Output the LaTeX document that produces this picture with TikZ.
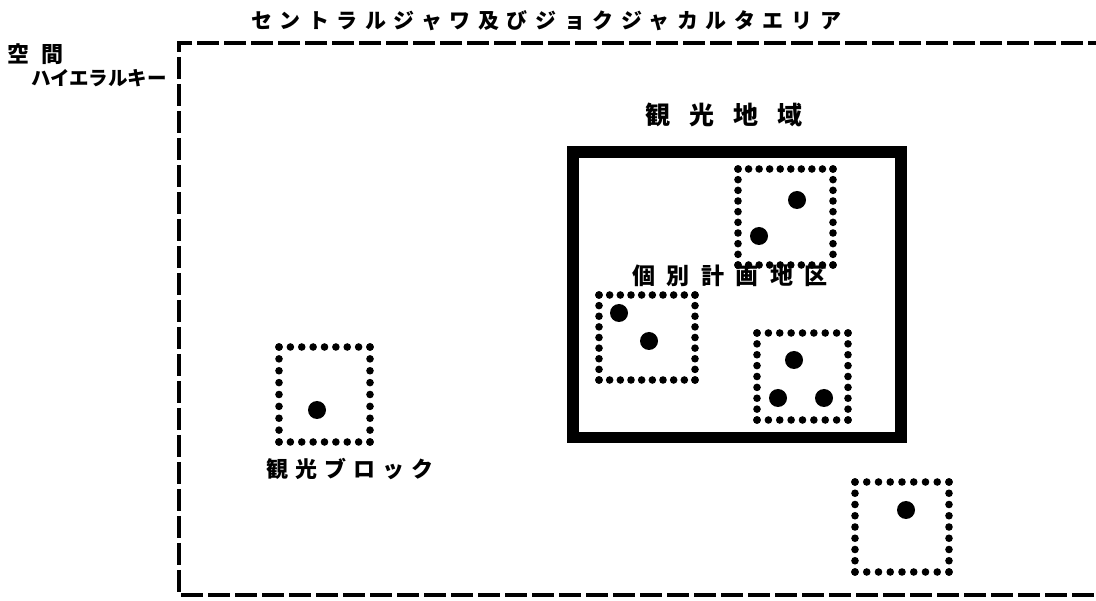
\documentclass[tikz,border=0pt]{standalone}
\usepackage{fontspec}
\setmainfont{Noto Sans CJK JP}
\newfontfamily\jptitle[LetterSpace=36]{Noto Sans CJK JP}
\newfontfamily\jpa{Noto Sans CJK JP}
\newfontfamily\jpregion[LetterSpace=76]{Noto Sans CJK JP}
\newfontfamily\jpdist[LetterSpace=50]{Noto Sans CJK JP}
\newfontfamily\jpblock[LetterSpace=32]{Noto Sans CJK JP}
\usetikzlibrary{calc}
% #1 x1, #2 y1, #3 x2, #4 y2, #5 intervals along x, #6 intervals along y
\newcommand\dotsquare[6]{%
  \foreach \i in {0,...,#5}{%
    \fill ({#1+(#3-#1)*\i/#5},#2) circle[radius=3.8pt];
    \fill ({#1+(#3-#1)*\i/#5},#4) circle[radius=3.8pt];
  }%
  \foreach \j in {0,...,#6}{%
    \fill (#1,{#2+(#4-#2)*\j/#6}) circle[radius=3.8pt];
    \fill (#3,{#2+(#4-#2)*\j/#6}) circle[radius=3.8pt];
  }%
}
\begin{document}
\begin{tikzpicture}[x=1pt,y=-1pt,
  outerline/.style={line width=4.5pt, dash pattern=on 22pt off 5pt},
  regionbox/.style={line width=11.5pt},
  lbl/.style={inner sep=0pt, outer sep=0pt, anchor=west},
  bigdot/.style={fill=black},
]
\fill[white] (0,0) rectangle (1096,601);
\useasboundingbox (0,0) rectangle (1096,601);

% outer dashed frame (open to the right)
\coordinate (otr) at (1110,43);
\coordinate (otl) at (179,43);
\coordinate (obl) at (179,595);
\coordinate (obr) at (1110,595);
\draw[outerline] (otr) -- (otl) -- (obl) -- (obr);

% title and side labels
\node[lbl, font=\jptitle\bfseries\fontsize{21}{21}\selectfont] (title) at (251,21) {セントラルジャワ及びジョクジャカルタエリア};
\node[lbl, font=\jpa\bfseries\fontsize{22}{22}\selectfont] (kukan) at (7,54) {空\hspace{13pt}間};
\node[lbl, font=\jpa\bfseries\fontsize{19.5}{19.5}\selectfont] (hier) at (31,78) {ハイエラルキー};

% tourism region
\node[lbl, font=\jpregion\bfseries\fontsize{25}{25}\selectfont] (regionlbl) at (645,115) {観光地域};
\coordinate (rbl) at (573,437.5);
\coordinate (rtl) at (573,152);
\coordinate (rtr) at (901,152);
\coordinate (rbr) at (901,437.5);
\draw[regionbox] (rbl) -- (rtl) -- (rtr) -- (rbr) -- cycle;
\node[lbl, font=\jpdist\bfseries\fontsize{23}{23}\selectfont] (distlbl) at (632,276) {個別計画地区};

% dotted squares
\dotsquare{738}{169}{833}{265}{9}{9}
\fill[bigdot] (797,200) circle[radius=9pt];
\fill[bigdot] (759,236) circle[radius=9pt];

\dotsquare{599}{295}{695}{380}{9}{8}
\fill[bigdot] (619,313) circle[radius=9pt];
\fill[bigdot] (649,341) circle[radius=9pt];

\dotsquare{757}{333}{848}{420}{8}{8}
\fill[bigdot] (794,360) circle[radius=9pt];
\fill[bigdot] (778,398) circle[radius=9pt];
\fill[bigdot] (824,398) circle[radius=9pt];

\dotsquare{279}{347}{370}{442}{8}{8}
\fill[bigdot] (317,410) circle[radius=9pt];
\node[lbl, font=\jpblock\bfseries\fontsize{22}{22}\selectfont] (blocklbl) at (266,469) {観光ブロック};

\dotsquare{855}{482}{949}{572}{8}{8}
\fill[bigdot] (906,510) circle[radius=9pt];
\end{tikzpicture}
\end{document}
